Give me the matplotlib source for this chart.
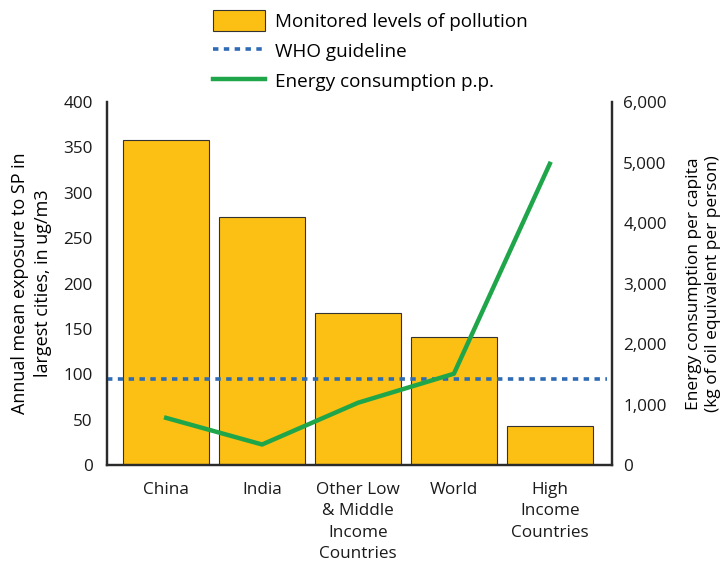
import matplotlib as mpl
import matplotlib.pyplot as plt
from matplotlib.patches import Patch
from matplotlib.lines import Line2D
import numpy as np

mpl.rcParams["font.family"] = ["Open Sans", "DejaVu Sans"]

categories = ["China", "India", "Other Low\n& Middle\nIncome\nCountries", "World", "High\nIncome\nCountries"]
pollution = [358, 273, 168, 141, 43]          # ug/m3
energy = [780, 340, 1030, 1510, 4980]         # kg oil eq. per person
who_guideline = 95

BAR_COLOR = "#FCBF14"
WHO_COLOR = "#2E6BB5"
ENERGY_COLOR = "#1FA64A"
SPINE_COLOR = "#2b2b2b"

fig = plt.figure(figsize=(7.21, 5.61), dpi=100)
ax = fig.add_axes([0.148, 0.171, 0.701, 0.647])
ax2 = ax.twinx()

x = np.arange(len(categories))
ax.bar(x, pollution, width=0.9, color=BAR_COLOR, edgecolor="#333333", linewidth=0.8, zorder=2)
ax.axhline(who_guideline, xmin=0.0, xmax=0.99, color=WHO_COLOR, linewidth=2.6,
           linestyle=(0, (1.5, 1.5)), dash_capstyle="butt", zorder=3)
ax2.plot(x, energy, color=ENERGY_COLOR, linewidth=3.2, zorder=4)

ax.set_xlim(-0.62, 4.65)
ax.set_ylim(0, 400)
ax2.set_ylim(0, 6000)
ax.set_yticks(np.arange(0, 401, 50))
ax2.set_yticks(np.arange(0, 6001, 1000))
ax2.set_yticklabels([f"{v:,}" for v in range(0, 6001, 1000)])
ax.set_xticks(x)
ax.set_xticklabels(categories, linespacing=1.45, va="top")

for a in (ax, ax2):
    a.tick_params(length=0, labelsize=12.3, colors="#1a1a1a")
    a.spines["top"].set_visible(False)
    for side in ("left", "right", "bottom"):
        a.spines[side].set_color(SPINE_COLOR)
        a.spines[side].set_linewidth(1.6)
ax.tick_params(axis="y", pad=10)
ax.tick_params(axis="x", pad=12)
ax2.tick_params(axis="y", pad=8)

ax.set_ylabel("Annual mean exposure to SP in\nlargest cities, in ug/m3", fontsize=13, labelpad=8,
              linespacing=1.35)
ax2.set_ylabel("Energy consumption per capita\n(kg of oil equivalent per person)", fontsize=12.5,
               labelpad=14, linespacing=1.2)

handles = [
    Patch(facecolor=BAR_COLOR, edgecolor="#333333", linewidth=0.8),
    Line2D([], [], color=WHO_COLOR, linewidth=2.6, linestyle=(0, (1.5, 1.5))),
    Line2D([], [], color=ENERGY_COLOR, linewidth=3.2),
]
labels = ["Monitored levels of pollution", "WHO guideline", "Energy consumption p.p."]
fig.legend(handles, labels, loc="upper left", bbox_to_anchor=(0.272, 1.012), frameon=False,
           fontsize=13.6, handlelength=2.75, handleheight=1.3, labelspacing=0.5, handletextpad=0.55)

fig.savefig("out.png", dpi=100)
